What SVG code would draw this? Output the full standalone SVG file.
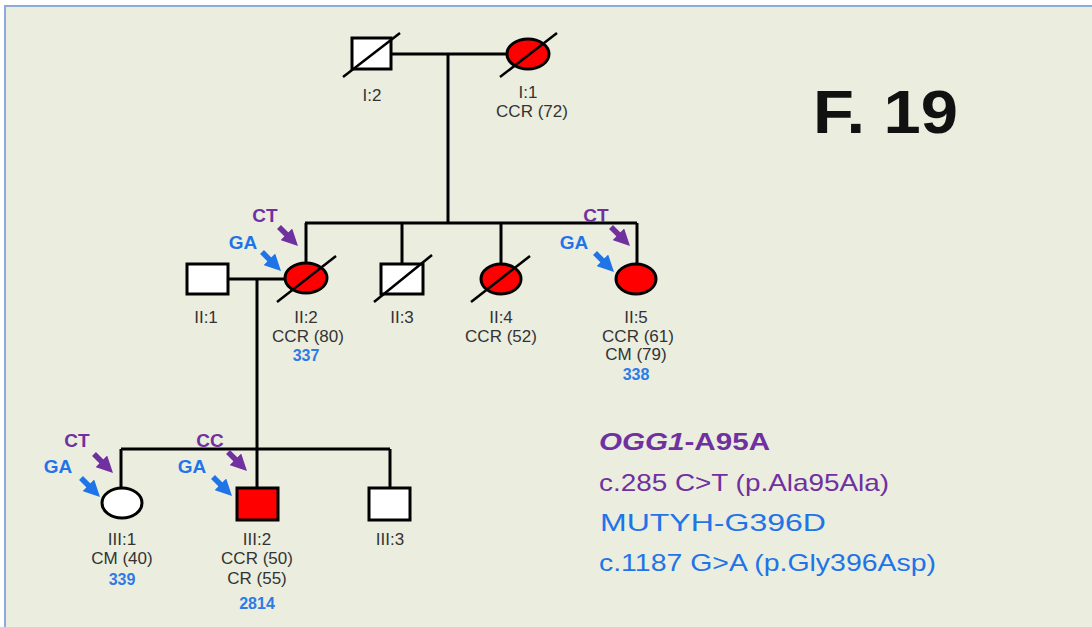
<svg xmlns="http://www.w3.org/2000/svg" width="1092" height="627" viewBox="0 0 1092 627">
<defs>
<marker id="ap" viewBox="0 0 10 10" refX="4" refY="5" markerWidth="3" markerHeight="3" orient="auto"><path d="M0,0 L10,5 L0,10 z" fill="#7030A0"/></marker>
<marker id="ab" viewBox="0 0 10 10" refX="4" refY="5" markerWidth="3" markerHeight="3" orient="auto"><path d="M0,0 L10,5 L0,10 z" fill="#1F74E8"/></marker>
</defs>
<style>
.ln{stroke:#000;stroke-width:3;fill:none}
.sh{stroke:#000;stroke-width:3}
.dg{stroke:#000;stroke-width:2.5}
.lb{font-family:"Liberation Sans",Arial,sans-serif;font-size:17px;fill:#333;text-anchor:middle}
.nm{font-family:"Liberation Sans",Arial,sans-serif;font-size:16px;font-weight:bold;fill:#2E7BE6;text-anchor:middle}
.gp{font-family:"Liberation Sans",Arial,sans-serif;font-size:19px;font-weight:bold;fill:#7030A0;text-anchor:middle}
.gb{font-family:"Liberation Sans",Arial,sans-serif;font-size:19px;font-weight:bold;fill:#1F74E8;text-anchor:middle}
.arp{stroke:#7030A0;stroke-width:5.5;fill:none;marker-end:url(#ap)}
.arb{stroke:#1F74E8;stroke-width:5.5;fill:none;marker-end:url(#ab)}
.lg{font-family:"Liberation Sans",Arial,sans-serif;font-size:24px}
</style>
<rect x="0" y="0" width="1092" height="627" fill="#ffffff"/>
<rect x="5" y="6" width="1090" height="625" fill="#EBEDDF" stroke="#8EA9DB" stroke-width="2"/>

<g id="connectors">
<path class="ln" d="M391,54 H507"/>
<path class="ln" d="M448,54 V223"/>
<path class="ln" d="M305,223 H637"/>
<path class="ln" d="M306,223 V263"/>
<path class="ln" d="M402,223 V264"/>
<path class="ln" d="M501,223 V264"/>
<path class="ln" d="M637,223 V264"/>
<path class="ln" d="M228,279 H285"/>
<path class="ln" d="M257,279 V488"/>
<path class="ln" d="M121,449 H390"/>
<path class="ln" d="M121,449 V488"/>
<path class="ln" d="M390,449 V488"/>
</g>

<g id="I2">
<rect class="sh" x="352" y="38" width="39" height="31" fill="#fff"/>
<line class="dg" x1="343" y1="77" x2="400" y2="33"/>
<text class="lb" x="372" y="101">I:2</text>
</g>
<g id="I1">
<ellipse class="sh" cx="528" cy="54" rx="21" ry="15" fill="#FF0000"/>
<line class="dg" x1="500" y1="77" x2="557" y2="33"/>
<text class="lb" x="528" y="98">I:1</text>
<text class="lb" x="532" y="117">CCR (72)</text>
</g>

<g id="II1">
<rect class="sh" x="187" y="264" width="41" height="30" fill="#fff"/>
<text class="lb" x="206" y="323">II:1</text>
</g>
<g id="II2">
<ellipse class="sh" cx="306" cy="278" rx="21" ry="15" fill="#FF0000"/>
<line class="dg" x1="277" y1="302" x2="336" y2="256"/>
<text class="lb" x="306" y="323">II:2</text>
<text class="lb" x="308" y="342">CCR (80)</text>
<text class="nm" x="306" y="361">337</text>
<text class="gp" x="265" y="222">CT</text>
<text class="gb" x="243" y="249">GA</text>
<path class="arp" d="M279,227 L291,239"/>
<path class="arb" d="M262,252 L274,264"/>
</g>
<g id="II3">
<rect class="sh" x="381" y="264" width="42" height="30" fill="#fff"/>
<line class="dg" x1="374" y1="302" x2="432" y2="255"/>
<text class="lb" x="402" y="323">II:3</text>
</g>
<g id="II4">
<ellipse class="sh" cx="501" cy="279" rx="20" ry="15" fill="#FF0000"/>
<line class="dg" x1="471" y1="302" x2="530" y2="256"/>
<text class="lb" x="501" y="323">II:4</text>
<text class="lb" x="501" y="342">CCR (52)</text>
</g>
<g id="II5">
<ellipse class="sh" cx="636" cy="279" rx="20" ry="15" fill="#FF0000"/>
<text class="lb" x="636" y="323">II:5</text>
<text class="lb" x="638" y="342">CCR (61)</text>
<text class="lb" x="636" y="360">CM (79)</text>
<text class="nm" x="636" y="380">338</text>
<text class="gp" x="596" y="222">CT</text>
<text class="gb" x="574" y="249">GA</text>
<path class="arp" d="M611,227 L623,239"/>
<path class="arb" d="M595,253 L607,265"/>
</g>

<g id="III1">
<ellipse class="sh" cx="122" cy="503" rx="20" ry="15" fill="#fff"/>
<text class="lb" x="122" y="545">III:1</text>
<text class="lb" x="122" y="564">CM (40)</text>
<text class="nm" x="122" y="585">339</text>
<text class="gp" x="77" y="447">CT</text>
<text class="gb" x="58" y="473">GA</text>
<path class="arp" d="M94,454 L106,466"/>
<path class="arb" d="M81,478 L93,490"/>
</g>
<g id="III2">
<rect class="sh" x="237" y="488" width="41" height="32" fill="#FF0000"/>
<text class="lb" x="257" y="545">III:2</text>
<text class="lb" x="257" y="564">CCR (50)</text>
<text class="lb" x="257" y="584">CR (55)</text>
<text class="nm" x="257" y="609">2814</text>
<text class="gp" x="210" y="447">CC</text>
<text class="gb" x="192" y="473">GA</text>
<path class="arp" d="M228,452 L240,464"/>
<path class="arb" d="M213,477 L225,489"/>
</g>
<g id="III3">
<rect class="sh" x="369" y="488" width="41" height="32" fill="#fff"/>
<text class="lb" x="390" y="545">III:3</text>
</g>

<g id="legend">
<text class="lg" x="599" y="450" fill="#7030A0" font-weight="bold" textLength="171" lengthAdjust="spacingAndGlyphs"><tspan font-style="italic">OGG1</tspan>-A95A</text>
<text class="lg" x="599" y="491" fill="#7030A0" textLength="290" lengthAdjust="spacingAndGlyphs">c.285 C&gt;T (p.Ala95Ala)</text>
<text class="lg" x="600" y="531" fill="#1F74E8" textLength="226" lengthAdjust="spacingAndGlyphs">MUTYH-G396D</text>
<text class="lg" x="599" y="571" fill="#1F74E8" textLength="337" lengthAdjust="spacingAndGlyphs">c.1187 G&gt;A (p.Gly396Asp)</text>
</g>

<text x="813" y="133" font-family="Liberation Sans,Arial,sans-serif" font-size="62" font-weight="bold" fill="#111" textLength="145" lengthAdjust="spacingAndGlyphs">F. 19</text>
</svg>
